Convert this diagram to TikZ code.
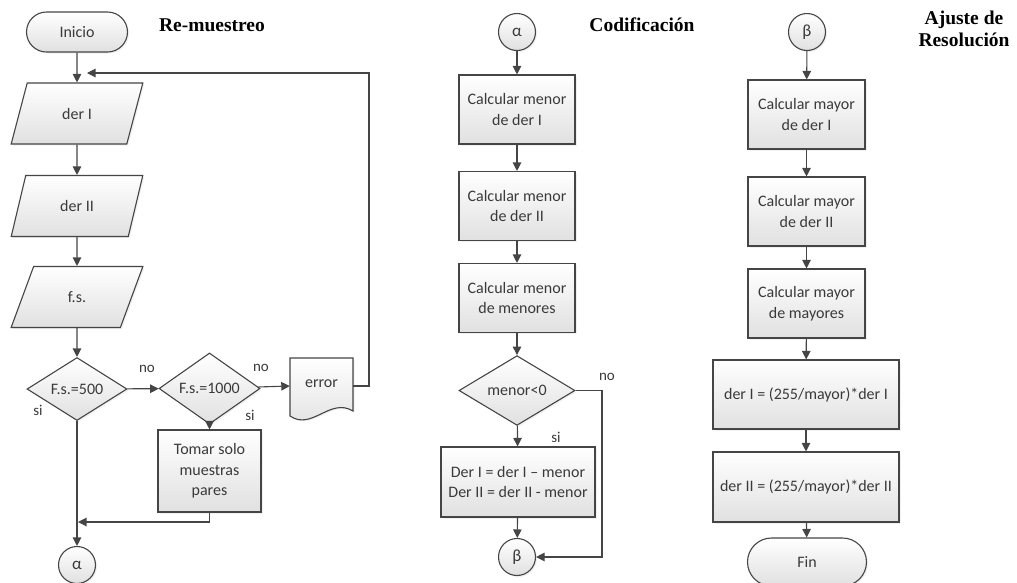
\documentclass[tikz,border=0pt]{standalone}
\usepackage{fontspec}
\setmainfont{Carlito}
\newfontfamily\titlefont{Liberation Serif}
\usetikzlibrary{shapes.geometric,shapes.misc,arrows.meta,shadows}
\definecolor{linec}{HTML}{454545}
\definecolor{txtc}{HTML}{3A3A3A}
\tikzset{
  shape base/.style={draw=linec, line width=1.1pt, top color=white, bottom color=black!12,
    text=txtc, font=\fontsize{16}{20.5}\selectfont, align=center, inner sep=0pt,
    drop shadow={opacity=0.12, shadow xshift=1.5pt, shadow yshift=-1.5pt}},
  proc/.style={shape base, rectangle, minimum width=#1, minimum height=69},
  proc/.default=116,
  io/.style={shape base, trapezium, trapezium left angle=67, trapezium right angle=113,
    trapezium stretches=true, minimum width=132, minimum height=61},
  decision/.style={shape base, diamond, minimum width=#1, minimum height=59},
  decision/.default=100,
  term/.style={shape base, rounded rectangle, minimum width=118, minimum height=44},
  conn/.style={shape base, circle, minimum size=37, font=\fontsize{17}{20}\selectfont},
  arr/.style={draw=linec, line width=1.1pt, -{Triangle[length=8.5pt,width=8.5pt]}},
  lbl/.style={text=txtc, font=\fontsize{15}{17}\selectfont, inner sep=0pt},
  ttl/.style={font=\titlefont\bfseries\fontsize{19.5}{22}\selectfont, align=center, inner sep=0pt}
}
\begin{document}
\begin{tikzpicture}[x=1pt,y=-1pt]
\useasboundingbox (0,0) rectangle (1017,582);
% ---------- Column 1: Re-muestreo
\node[term, minimum width=101, minimum height=40] (ini) at (77,32) {Inicio};
\node[ttl] (t1) at (212,25) {Re-muestreo};
\node[io] (d1) at (77,113.5) {der I};
\node[io] (d2) at (77,206) {der II};
\node[io] (d3) at (77,297) {f.s.};
\node[decision] (q1) at (77,389) {F.s.=500};
\node[decision, minimum width=101] (q2) at (209.5,388.5) {F.s.=1000};
% document shape for error
\path[draw=linec, line width=1.1pt, top color=white, bottom color=black!12,
  drop shadow={opacity=0.12, shadow xshift=1.5pt, shadow yshift=-1.5pt}]
  (290,358) -- (353,358) -- (353,411) .. controls (330,397) and (312,431) .. (290,416) -- cycle;
\node[minimum width=63, minimum height=56, inner sep=0pt] (err) at (321.5,386) {};
\node[text=txtc, font=\fontsize{16}{20}\selectfont, inner sep=0pt] (errt) at (321.5,384) {error};
\node[proc=103, minimum height=82] (tom) at (209.5,471) {Tomar solo\\muestras\\pares};
\node[conn] (a1) at (77,565) {α};
\node[lbl] (no1) at (147,369) {no};
\node[lbl] (si1) at (38,410) {si};
\node[lbl] (no2) at (261,368) {no};
\node[lbl] (si2) at (250,415) {si};
\coordinate (fbA) at (369,73);
\coordinate (fbB) at (87,73);
\coordinate (jn) at (78,522);
\draw[arr] (ini) -- (d1);
\draw[arr] (d1) -- (d2);
\draw[arr] (d2) -- (d3);
\draw[arr] (d3) -- (q1);
\draw[arr] (q1) -- (q2);
\draw[arr] (q2) -- (err.west);
\draw[arr] (q2) -- (tom);
\draw[arr] (err.east) -| (fbA) -- (fbB);
\draw[arr] (tom.south) |- (jn);
\draw[arr] (q1) -- (a1);
% ---------- Column 2: Codificacion
\node[ttl] (t2) at (642,25) {Codificación};
\node[conn] (a2) at (517,32) {α};
\node[proc] (b1) at (517,109.5) {Calcular menor\\de der I};
\node[proc] (b2) at (517,206) {Calcular menor\\de der II};
\node[proc] (b3) at (517,298) {Calcular menor\\de menores};
\node[decision=116, minimum height=69] (q3) at (517,390.5) {menor<0};
\node[proc=154, minimum height=70] (b4) at (518,482) {Der I = der I -- menor\\Der II = der II - menor};
\node[conn] (be1) at (517,557) {β};
\node[lbl] (no3) at (607,377) {no};
\node[lbl] (si3) at (556,437) {si};
\coordinate (rq) at (602,390.5);
\draw[arr] (a2) -- (b1);
\draw[arr] (b1) -- (b2);
\draw[arr] (b2) -- (b3);
\draw[arr] (b3) -- (q3);
\draw[arr] (q3) -- (b4);
\draw[arr] (b4) -- (be1);
\draw[arr] (q3.east) -- (rq) |- (be1.east);
% ---------- Column 3: Ajuste de Resolucion
\node[ttl] (t3) at (964,29) {Ajuste de\\Resolución};
\node[conn] (be2) at (807,32) {β};
\node[proc=117] (c1) at (806.5,114.5) {Calcular mayor\\de der I};
\node[proc=117] (c2) at (806.5,211.5) {Calcular mayor\\de der II};
\node[proc=117] (c3) at (806.5,303.5) {Calcular mayor\\de mayores};
\node[proc=186] (c4) at (806,394.5) {der I = (255/mayor)*der I};
\node[proc=186, minimum height=70] (c5) at (806,487) {der II = (255/mayor)*der II};
\node[term, minimum width=119, minimum height=48] (fin) at (807,562) {Fin};
\draw[arr] (be2) -- (c1);
\draw[arr] (c1) -- (c2);
\draw[arr] (c2) -- (c3);
\draw[arr] (c3) -- (c4);
\draw[arr] (c4) -- (c5);
\draw[arr] (c5) -- (fin);
\end{tikzpicture}
\end{document}
